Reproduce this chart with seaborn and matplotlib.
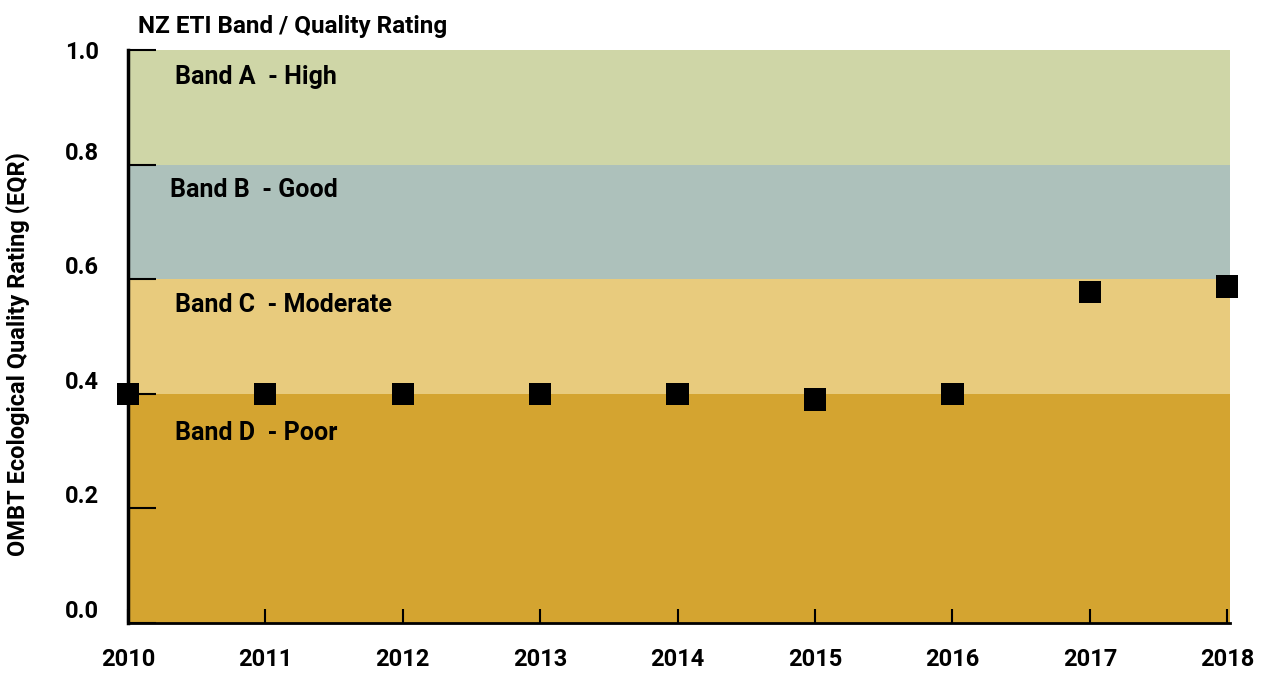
import numpy as np
import pandas as pd
import seaborn as sns
import matplotlib.pyplot as plt
from matplotlib.transforms import ScaledTranslation

years = [2010, 2011, 2012, 2013, 2014, 2015, 2016, 2017, 2018]
eqr = [0.40, 0.40, 0.40, 0.40, 0.40, 0.39, 0.40, 0.578, 0.587]

band_names = ['Band A  - High', 'Band B  - Good', 'Band C  - Moderate', 'Band D  - Poor']
band_low = [0.8, 0.6, 0.4, 0.0]
band_high = [1.0, 0.8, 0.6, 0.4]
band_colors = ['#cfd6a7', '#adc1bb', '#e8cb7d', '#d4a430']
band_label_x = [2010.34, 2010.31, 2010.34, 2010.34]
band_label_y = [0.953, 0.756, 0.555, 0.332]

yticks = [0.0, 0.2, 0.4, 0.6, 0.8, 1.0]

sns.set_style('white')
plt.rcParams['font.family'] = ['Roboto', 'DejaVu Sans']
plt.rcParams['font.weight'] = 'bold'
plt.rcParams['text.color'] = 'black'

df = pd.DataFrame({'year': years, 'eqr': eqr})

fig = plt.figure(figsize=(12.66, 6.75), dpi=100)
ax = fig.add_axes([0.101, 0.077, 0.8706, 0.849])

for lo, hi, c in zip(band_low, band_high, band_colors):
    ax.axhspan(lo, hi, color=c, lw=0, zorder=0)
for name, lx, ly in zip(band_names, band_label_x, band_label_y):
    ax.text(lx, ly, name, fontsize=18, va='center', ha='left', zorder=2, color='black')

sns.scatterplot(data=df, x='year', y='eqr', marker='s', s=260, color='black',
                edgecolor='none', ax=ax, zorder=3, clip_on=False)

ax.set_xlim(2010, 2018.02)
ax.set_ylim(0, 1.0)
ax.set_xticks(years)
ax.set_xticklabels([str(y) for y in years], fontsize=17, fontweight='bold')
ax.set_yticks(yticks)
ax.set_yticklabels(['%.1f' % v for v in yticks], fontsize=17, fontweight='bold')
ax.tick_params(axis='y', left=True, direction='in', length=20, width=1.5, pad=21,
               colors='black')
ax.tick_params(axis='x', bottom=True, direction='in', length=10, width=1.5, pad=18,
               colors='black')

# y labels sit a bit above their ticks
off = ScaledTranslation(0, 14 / 100, fig.dpi_scale_trans)
for lab in ax.get_yticklabels()[:-1]:
    lab.set_transform(lab.get_transform() + off)

for s in ['top', 'right']:
    ax.spines[s].set_visible(False)
ax.spines['left'].set_linewidth(2.5)
ax.spines['bottom'].set_linewidth(2)
ax.spines['left'].set_color('black')
ax.spines['bottom'].set_color('black')

ax.set_xlabel('')
ax.set_ylabel('OMBT Ecological Quality Rating (EQR)', fontsize=17, fontweight='bold',
              color='black')
ax.yaxis.set_label_coords(-0.089, 0.47)
fig.text(0.109, 0.960, 'NZ ETI Band / Quality Rating', fontsize=17.5, va='center',
         ha='left', color='black')

fig.savefig('out.png', dpi=100)
